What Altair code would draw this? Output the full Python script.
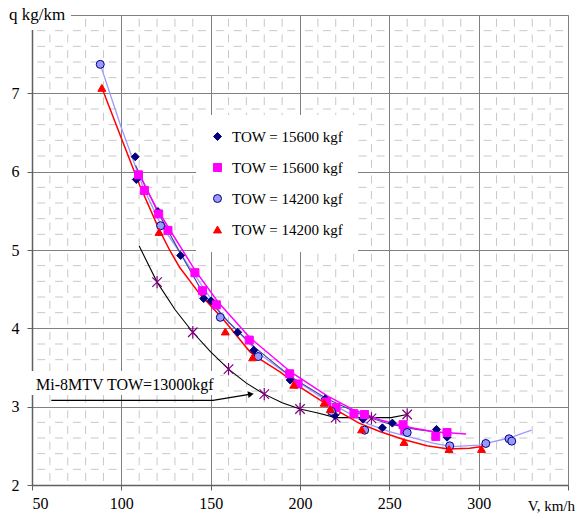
import altair as alt
import pandas as pd

# ---- measured points: speed V (km/h), fuel per kilometre q (kg/km) ----
dia_v = [107.8, 108.4, 120.5, 133.2, 146.1, 150.3, 165.1, 174.1, 194.5, 214.1,
         219.4, 235.3, 246.1, 251.7, 276.4, 282.3]
dia_q = [6.19, 5.90, 5.49, 4.93, 4.38, 4.35, 3.95, 3.72, 3.34, 3.10,
         2.89, 2.84, 2.73, 2.79, 2.71, 2.61]

sq_v = [109.6, 112.9, 120.9, 126.1, 141.2, 145.4, 153.2, 171.6, 194.2, 198.9,
        214.8, 220.2, 230.2, 236.1, 257.7, 258.6, 276.0, 282.3]
sq_q = [5.96, 5.76, 5.46, 5.25, 4.71, 4.48, 4.30, 3.85, 3.42, 3.29,
        3.06, 2.99, 2.91, 2.90, 2.77, 2.70, 2.62, 2.67]

circ_v = [88.2, 122.0, 155.4, 176.6, 217.6, 236.2, 260.0, 283.8, 304.0, 317.0, 318.5]
circ_q = [7.37, 5.31, 4.14, 3.64, 2.94, 2.70, 2.67, 2.50, 2.53, 2.59, 2.56]

tri_v = [89.1, 121.1, 158.2, 173.5, 196.5, 213.5, 217.0, 234.5, 258.2, 283.4, 301.6]
tri_q = [7.07, 5.23, 3.96, 3.63, 3.28, 3.05, 2.97, 2.71, 2.55, 2.46, 2.46]

mi8_v = [120, 140, 160, 180, 200, 220, 240, 260]
mi8_q = [4.59, 3.95, 3.48, 3.16, 2.97, 2.86, 2.85, 2.90]

# ---- fitted curves ----
fit_circ_v = [88.2, 100, 112, 122, 133, 145, 156, 177, 195, 210, 220, 238, 250,
              260, 275, 285, 300, 317, 329.6]
fit_circ_q = [7.37, 6.56, 5.81, 5.33, 4.96, 4.55, 4.18, 3.68, 3.38, 3.15, 3.01,
              2.78, 2.68, 2.62, 2.53, 2.49, 2.51, 2.60, 2.70]

fit_tri_v = [89.1, 101, 110.2, 121, 127, 132.6, 143.8, 156.9, 172, 178, 189, 200,
             217, 233, 245, 258, 271, 283, 295, 302]
fit_tri_q = [7.07, 6.37, 5.83, 5.27, 5.00, 4.78, 4.44, 4.12, 3.70, 3.60, 3.44,
             3.25, 3.00, 2.79, 2.68, 2.58, 2.50, 2.46, 2.47, 2.49]

fit_sq_v = [109.6, 120, 126, 141, 154, 172, 195, 215, 230, 245, 260, 275, 293]
fit_sq_q = [5.98, 5.52, 5.30, 4.75, 4.34, 3.88, 3.44, 3.14, 2.96, 2.83, 2.74, 2.68, 2.65]

fit_dia_v = [108, 120, 133, 146, 160, 175, 195, 215, 235, 250, 265, 282]
fit_dia_q = [6.08, 5.50, 4.96, 4.44, 4.08, 3.75, 3.38, 3.10, 2.89, 2.78, 2.71, 2.66]

fit_mi8_v = [110, 120, 130, 140, 150, 160, 170, 180, 190, 200, 210, 220, 233, 251, 260]
fit_mi8_q = [5.05, 4.59, 4.24, 3.95, 3.70, 3.48, 3.30, 3.16, 3.05, 2.97, 2.92,
             2.86, 2.86, 2.86, 2.90]

# callout arrow path (data coordinates) and its head
arrow_v = [60.8, 151.3, 172.5]
arrow_q = [3.08, 3.08, 3.16]
callout_text = "Mi-8MTV TOW=13000kgf"

series_keys = ["d", "m", "c", "t"]
series_fill = ["#000080", "#FF00FF", "#9999FF", "#FF0000"]
series_edge = ["#000080", "#FF00FF", "#000080", "#FF0000"]
series_shape = ["diamond", "square", "circle", "triangle-up"]
series_size = [64, 64, 64, 85]

x_major = [50, 100, 150, 200, 250, 300, 350]
y_major = [2, 3, 4, 5, 6, 7, 8]
x_minor = [v for v in range(60, 350, 10) if v % 50]
y_minor = [round(2 + 0.2 * i, 1) for i in range(1, 30) if i % 5]

W, H = 536, 470
SERIF = "Liberation Serif, Times New Roman, serif"

xs = alt.Scale(domain=[50, 350], nice=False, zero=False)
ys = alt.Scale(domain=[2, 8], nice=False, zero=False)
xaxis = alt.Axis(values=x_major, grid=True, gridColor="#808080", gridWidth=1,
                 domainColor="#606060", domainWidth=1.5, tickColor="#606060",
                 tickSize=5, labelFont=SERIF, labelFontSize=16, labelColor="black",
                 labelPadding=5, title=None,
                 labelExpr="datum.value == 350 ? '' : datum.label")
yaxis = alt.Axis(values=y_major, grid=True, gridColor="#808080", gridWidth=1,
                 domainColor="#606060", domainWidth=1.5, tickColor="#606060",
                 tickSize=5, labelFont=SERIF, labelFontSize=16, labelColor="black",
                 labelPadding=8, title=None,
                 labelExpr="datum.value == 8 ? '' : datum.label")


def X():
    return alt.X("V:Q", scale=xs, axis=xaxis)


def Y():
    return alt.Y("q:Q", scale=ys, axis=yaxis)


# minor dashed grid
grid_v = alt.Chart(pd.DataFrame({"V": x_minor})).mark_rule(
    color="#c8c8c8", strokeWidth=1, strokeDash=[8, 7.66], strokeDashOffset=-3.8
).encode(x=X())
grid_q = alt.Chart(pd.DataFrame({"q": y_minor})).mark_rule(
    color="#c8c8c8", strokeWidth=1, strokeDash=[8, 9.86], strokeDashOffset=-4.9
).encode(y=Y())


def curve(vs, qs, color, width):
    df = pd.DataFrame({"V": vs, "q": qs, "i": range(len(vs))})
    return alt.Chart(df).mark_line(color=color, strokeWidth=width).encode(
        x=X(), y=Y(), order="i:Q")


lines = [
    curve(fit_mi8_v, fit_mi8_q, "black", 1.1),
    curve(fit_circ_v, fit_circ_q, "#9999FF", 1.3),
    curve(fit_dia_v, fit_dia_q, "#4040A0", 1.1),
    curve(fit_sq_v, fit_sq_q, "#FF00FF", 1.5),
    curve(fit_tri_v, fit_tri_q, "#FF0000", 1.5),
]

stars = alt.Chart(pd.DataFrame({"V": mi8_v, "q": mi8_q})).mark_point(
    shape="M-1,-1L1,1M-1,1L1,-1M0,-1.3L0,1.3", filled=False, color="#800080",
    strokeWidth=1.2, size=90, opacity=1
).encode(x=X(), y=Y())

pts = pd.concat([
    pd.DataFrame({"V": dia_v, "q": dia_q, "s": "d"}),
    pd.DataFrame({"V": sq_v, "q": sq_q, "s": "m"}),
    pd.DataFrame({"V": circ_v, "q": circ_q, "s": "c"}),
    pd.DataFrame({"V": tri_v, "q": tri_q, "s": "t"}),
])
legend = alt.Legend(
    orient="none", legendX=164, legendY=100, fillColor="white", padding=14,
    title=None, labelFont=SERIF, labelFontSize=15, labelColor="black",
    labelOffset=7, rowPadding=15, symbolStrokeWidth=1,
    labelExpr="datum.value == 'd' || datum.value == 'm' ? 'TOW = 15600 kgf' : 'TOW = 14200 kgf'",
)
markers = alt.Chart(pts).mark_point(filled=True, opacity=1, strokeWidth=1).encode(
    x=X(), y=Y(),
    fill=alt.Fill("s:N", scale=alt.Scale(domain=series_keys, range=series_fill), legend=legend),
    stroke=alt.Stroke("s:N", scale=alt.Scale(domain=series_keys, range=series_edge), legend=legend),
    shape=alt.Shape("s:N", scale=alt.Scale(domain=series_keys, range=series_shape), legend=legend),
    size=alt.Size("s:N", scale=alt.Scale(domain=series_keys, range=series_size), legend=legend),
)

arrow = alt.Chart(pd.DataFrame({"V": arrow_v, "q": arrow_q, "i": [0, 1, 2]})).mark_line(
    color="black", strokeWidth=1.3).encode(x=X(), y=Y(), order="i:Q")
head = alt.Chart(pd.DataFrame({"V": [arrow_v[-1]], "q": [arrow_q[-1]]})).mark_point(
    shape="triangle-right", filled=True, color="black", size=45, angle=350.5, opacity=1
).encode(x=X(), y=Y())

one = pd.DataFrame({"k": [0]})
callout_box = alt.Chart(one).mark_rect(color="white").encode(
    x=alt.value(-12), x2=alt.value(188), y=alt.value(356), y2=alt.value(380))
callout = alt.Chart(one).mark_text(
    font=SERIF, fontSize=16, align="left", baseline="alphabetic", color="black"
).encode(x=alt.value(4), y=alt.value(375), text=alt.value(callout_text))

title_box = alt.Chart(one).mark_rect(color="white").encode(
    x=alt.value(-33), x2=alt.value(39), y=alt.value(-16), y2=alt.value(15))
title = alt.Chart(one).mark_text(
    font=SERIF, fontSize=17, align="left", baseline="alphabetic", color="black"
).encode(x=alt.value(-23), y=alt.value(5), text=alt.value("q  kg/km"))

vlabel = alt.Chart(one).mark_text(
    font=SERIF, fontSize=15, align="right", baseline="middle", color="black", dx=7
).encode(x=alt.datum(350, scale=xs), y=alt.value(H + 21), text=alt.value("V, km/h"))

chart = alt.layer(
    grid_v, grid_q, *lines, stars, markers, arrow, head,
    callout_box, callout, title_box, title, vlabel
).properties(
    width=W, height=H,
    autosize=alt.AutoSizeParams(type="none"),
    padding={"left": 32, "top": 15, "right": 10, "bottom": 34},
).configure_view(stroke=None).configure(background="white")

chart.save("out.html", embed_options={"renderer": "svg", "actions": False})
